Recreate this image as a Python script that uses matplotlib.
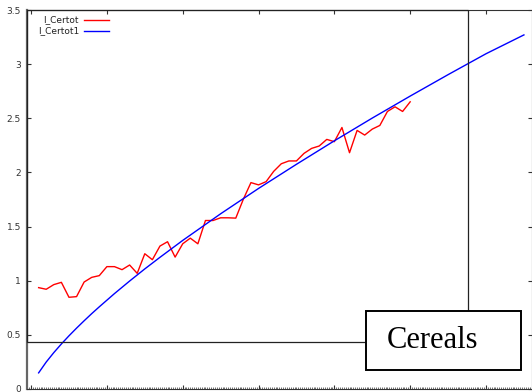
import matplotlib
matplotlib.use('Agg')
import matplotlib.pyplot as plt
from matplotlib.patches import Rectangle
from matplotlib.lines import Line2D
from matplotlib.ticker import MultipleLocator

# observed series, one value per year 1961-2010
years_obs = list(range(1961, 2011))
certot = [0.936, 0.921, 0.964, 0.985, 0.847, 0.853, 0.988, 1.031, 1.047, 1.130,
          1.130, 1.102, 1.145, 1.068, 1.249, 1.194, 1.320, 1.360, 1.218, 1.341,
          1.393, 1.341, 1.556, 1.556, 1.581, 1.581, 1.578, 1.753, 1.906, 1.885,
          1.915, 2.010, 2.080, 2.106, 2.106, 2.176, 2.222, 2.244, 2.305, 2.284,
          2.415, 2.182, 2.388, 2.345, 2.400, 2.434, 2.563, 2.606, 2.563, 2.652]

# fitted curve
years_fit = [1961, 1962, 1963, 1964, 1965, 1966, 1967, 1968, 1969, 1970,
             1971, 1973, 1975, 1977, 1980, 1985, 1990, 1995,
             2000, 2005, 2010, 2015, 2020, 2025]
certot1 = [0.149, 0.249, 0.336, 0.416, 0.491, 0.562, 0.630, 0.696, 0.759, 0.820,
           0.881, 0.997, 1.109, 1.216, 1.372, 1.618, 1.852, 2.075,
           2.292, 2.502, 2.705, 2.903, 3.096, 3.270]

yticks = [0, 0.5, 1, 1.5, 2, 2.5, 3, 3.5]
ytick_labels = ['0', '0.5', '1', '1.5', '2', '2.5', '3', '3.5']
series_names = ['I_Certot', 'I_Certot1']
series_colors = ['#ff0000', '#0000ff']

W, H = 532, 392
fig = plt.figure(figsize=(W / 100, H / 100), dpi=100)
ax = fig.add_axes([26.5 / W, 3 / H, 505 / W, 379 / H])

ax.plot(years_obs, certot, color=series_colors[0], lw=1.0)
ax.plot(years_fit, certot1, color=series_colors[1], lw=1.0)

ax.set_xlim(1959.4, 2026.0)
ax.set_ylim(0, 3.5)
ax.set_yticks(yticks)
ax.set_yticklabels(ytick_labels)
ax.xaxis.set_major_locator(MultipleLocator(10))
ax.xaxis.set_minor_locator(MultipleLocator(0.25))
ax.tick_params(axis='x', which='major', direction='in', length=3, width=0.8,
               top=True, bottom=True, labelbottom=False, color='#333333')
ax.tick_params(axis='x', which='minor', direction='in', length=1.2, width=0.6,
               top=False, bottom=True, color='#555555')
ax.tick_params(axis='y', which='major', direction='in', length=3, width=0.8,
               left=True, right=True, labelsize=6.5, labelcolor='#333333',
               pad=4, color='#333333')
for s in ax.spines.values():
    s.set_linewidth(0.8)
    s.set_color('#333333')
ax.spines['left'].set_linewidth(1.6)
ax.spines['left'].set_color('#666666')

# legend drawn by hand: text right-aligned, sample line to the right
for i, (name, col) in enumerate(zip(series_names, series_colors)):
    yy = (H - (19.5 + 11.3 * i)) / H
    fig.text(79 / W, yy, name, ha='right', va='center', fontsize=6.5,
             color='#222222')
    fig.add_artist(Line2D([84 / W, 109 / W], [yy, yy], color=col, lw=1.0,
                          transform=fig.transFigure))

# overlay frame (partly hidden behind the label box)
fig.add_artist(Rectangle((26.5 / W, (H - 341.7) / H), (468.3 - 26.5) / W,
                         (341.7 - 10) / H, transform=fig.transFigure,
                         fill=False, ec='#222222', lw=0.9, zorder=5))
fig.add_artist(Rectangle((365.7 / W, (H - 370) / H), (520.7 - 365.7) / W,
                         (370 - 310.7) / H, transform=fig.transFigure,
                         fc='white', ec='black', lw=1.4, zorder=6))
fig.text(432.5 / W, (H - 340) / H, 'Cereals', family='Liberation Serif',
         fontsize=22, ha='center', va='center', zorder=7)

fig.savefig('out.png', dpi=100)
